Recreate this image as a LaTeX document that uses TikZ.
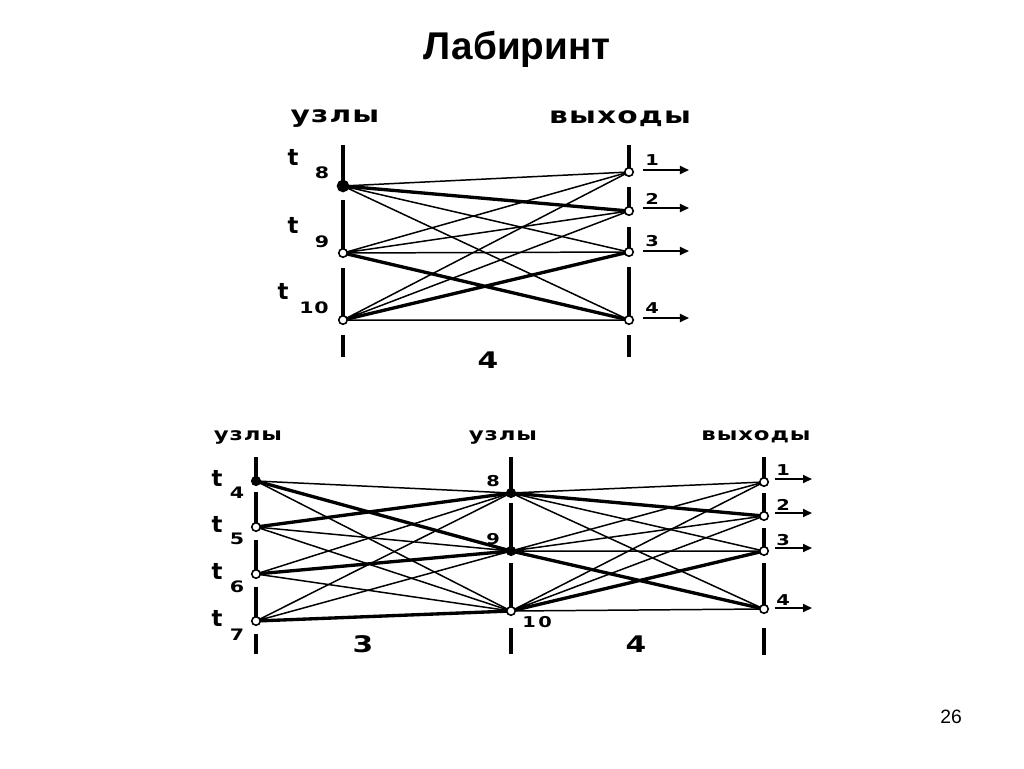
\documentclass[tikz,border=0pt]{standalone}
\usepackage{fontspec}
\setmainfont{Liberation Sans}
\newfontfamily\pixfont[FakeStretch=1.3,LetterSpace=5]{DejaVu Sans}
\newfontfamily\digfont{DejaVu Sans}
\usetikzlibrary{arrows.meta}

\begin{document}
\begin{tikzpicture}[
        x=0.02cm, y=-0.02cm,
        rail/.style={line width=1.8pt},
        wire/.style={line width=0.85pt},
        heavy/.style={line width=1.9pt},
        ring/.style={circle, draw=black, line width=0.9pt, fill=white, inner sep=0pt, minimum size=0.17cm},
        dot/.style={ring, fill=black},
        arrow/.style={-{Triangle[length=1.8mm, width=1.6mm]}, line width=1pt},
        heading/.style={font=\pixfont\bfseries\fontsize{13}{14}\selectfont},
        smallheading/.style={font=\pixfont\bfseries\fontsize{10}{11}\selectfont},
        tname/.style={font=\digfont\bfseries\fontsize{13}{13}\selectfont, inner sep=0pt},
        tsub/.style={font=\pixfont\bfseries\fontsize{9}{9}\selectfont, inner sep=0pt},
        outnum/.style={font=\pixfont\bfseries\fontsize{8.5}{9}\selectfont, inner sep=0pt},
        count/.style={font=\pixfont\bfseries\fontsize{13}{13}\selectfont, inner sep=0pt}
    ]
        \useasboundingbox[fill=white] (0,0) rectangle (1024,768);

        \node[font=\bfseries\fontsize{22}{26}\selectfont] (title) at (517,49) {Лабиринт};
        \node[font=\fontsize{11}{13}\selectfont] (page) at (951,717) {26};

        % upper maze
        \node[heading] (hnodes) at (335,119) {узлы};
        \node[heading] (hexits) at (620,119) {выходы};

        \draw[rail] (343,145) -- (343,186) (343,200) -- (343,253) (343,268) -- (343,320) (343,335) -- (343,357);
        \draw[rail] (629,145) -- (629,172) (629,187) -- (629,211) (629,227) -- (629,252) (629,267) -- (629,320) (629,335) -- (629,357);

        \coordinate (n8) at (343,186);
        \coordinate (n9) at (343,253);
        \coordinate (n10) at (343,320);
        \coordinate (q1) at (629,172);
        \coordinate (q2) at (629,211);
        \coordinate (q3) at (629,252);
        \coordinate (q4) at (629,320);

        \draw[wire] (n8) -- (q1) (n8) -- (q3) (n8) -- (q4);
        \draw[wire] (n9) -- (q1) (n9) -- (q2) (n9) -- (q3);
        \draw[wire] (n10) -- (q1) (n10) -- (q2) (n10) -- (q4);
        \draw[heavy] (n8) -- (q2) (n9) -- (q4) (n10) -- (q3);

        \node[dot, minimum size=0.22cm] (t8) at (n8) {};
        \node[ring] (t9) at (n9) {};
        \node[ring] (t10) at (n10) {};
        \foreach \k in {1,...,4}
            \node[ring] (o\k) at (q\k) {};

        \node[tname] (lt8) at (293,157) {t};
        \node[tsub] (ls8) at (322,173) {8};
        \node[tname] (lt9) at (293,225) {t};
        \node[tsub] (ls9) at (322,242) {9};
        \node[tname] (lt10) at (283,291) {t};
        \node[tsub] (ls10) at (314,308) {10};

        \node[outnum] (lo1) at (652,160) {1};
        \node[outnum] (lo2) at (652,199) {2};
        \node[outnum] (lo3) at (652,241) {3};
        \node[outnum] (lo4) at (652,308) {4};
        \draw[arrow] ([xshift=0.28cm, yshift=0.04cm]o1.center) -- ++(0.92cm,0);
        \draw[arrow] ([xshift=0.28cm, yshift=0.06cm]o2.center) -- ++(0.92cm,0);
        \draw[arrow] ([xshift=0.28cm, yshift=0.02cm]o3.center) -- ++(0.92cm,0);
        \draw[arrow] ([xshift=0.28cm, yshift=0.04cm]o4.center) -- ++(0.92cm,0);

        \node[count] (w1) at (488,360) {4};

        % lower maze
        \node[smallheading] (hleft) at (248,437) {узлы};
        \node[smallheading] (hmid) at (503,437) {узлы};
        \node[smallheading] (hout) at (756,437) {выходы};

        \draw[rail] (256,457) -- (256,481) (256,492) -- (256,527) (256,540) -- (256,574) (256,587) -- (256,621) (256,634) -- (256,654);
        \draw[rail] (511,457) -- (511,493) (511,503) -- (511,551) (511,563) -- (511,611) (511,628) -- (511,654);
        \draw[rail] (764,457) -- (764,482) (764,493) -- (764,516) (764,528) -- (764,551) (764,563) -- (764,609) (764,628) -- (764,655);

        \coordinate (m4) at (256,481);
        \coordinate (m5) at (256,527);
        \coordinate (m6) at (256,574);
        \coordinate (m7) at (256,621);
        \coordinate (k8) at (511,493);
        \coordinate (k9) at (511,551);
        \coordinate (k10) at (511,611);
        \coordinate (r1) at (764,482);
        \coordinate (r2) at (764,516);
        \coordinate (r3) at (764,551);
        \coordinate (r4) at (764,609);

        \draw[wire] (m4) -- (k8) (m4) -- (k10);
        \draw[wire] (m5) -- (k9) (m5) -- (k10);
        \draw[wire] (m6) -- (k8) (m6) -- (k10);
        \draw[wire] (m7) -- (k8) (m7) -- (k9);
        \draw[heavy] (m4) -- (k9) (m5) -- (k8) (m6) -- (k9) (m7) -- (k10);

        \draw[wire] (k8) -- (r1) (k8) -- (r3) (k8) -- (r4);
        \draw[wire] (k9) -- (r1) (k9) -- (r2) (k9) -- (r3);
        \draw[wire] (k10) -- (r1) (k10) -- (r2) (k10) -- (r4);
        \draw[heavy] (k8) -- (r2) (k9) -- (r4) (k10) -- (r3);

        \node[dot] (t4) at (m4) {};
        \node[ring] (t5) at (m5) {};
        \node[ring] (t6) at (m6) {};
        \node[ring] (t7) at (m7) {};
        \node[dot] (u8) at (k8) {};
        \node[dot] (u9) at (k9) {};
        \node[ring] (u10) at (k10) {};
        \foreach \k in {1,...,4}
            \node[ring] (x\k) at (r\k) {};

        \node[tname] (lt4) at (217,478) {t};
        \node[tsub] (ls4) at (237,493) {4};
        \node[tname] (lt5) at (217,524) {t};
        \node[tsub] (ls5) at (237,539) {5};
        \node[tname] (lt6) at (217,571) {t};
        \node[tsub] (ls6) at (237,587) {6};
        \node[tname] (lt7) at (217,618) {t};
        \node[tsub] (ls7) at (237,635) {7};

        \node[outnum] (lu8) at (493,481) {8};
        \node[outnum] (lu9) at (493,539) {9};
        \node[outnum] (lu10) at (537,622) {1\,0};

        \node[outnum] (lx1) at (783,470) {1};
        \node[outnum] (lx2) at (783,505) {2};
        \node[outnum] (lx3) at (783,540) {3};
        \node[outnum] (lx4) at (783,600) {4};
        \draw[arrow] ([xshift=0.22cm, yshift=0.06cm]x1.center) -- ++(0.74cm,0);
        \draw[arrow] ([xshift=0.22cm, yshift=0.06cm]x2.center) -- ++(0.74cm,0);
        \draw[arrow] ([xshift=0.22cm, yshift=0.06cm]x3.center) -- ++(0.74cm,0);
        \draw[arrow] ([xshift=0.22cm, yshift=0.02cm]x4.center) -- ++(0.74cm,0);

        \node[count] (w2) at (363,644) {3};
        \node[count] (w3) at (636,644) {4};
    \end{tikzpicture}
\end{document}
